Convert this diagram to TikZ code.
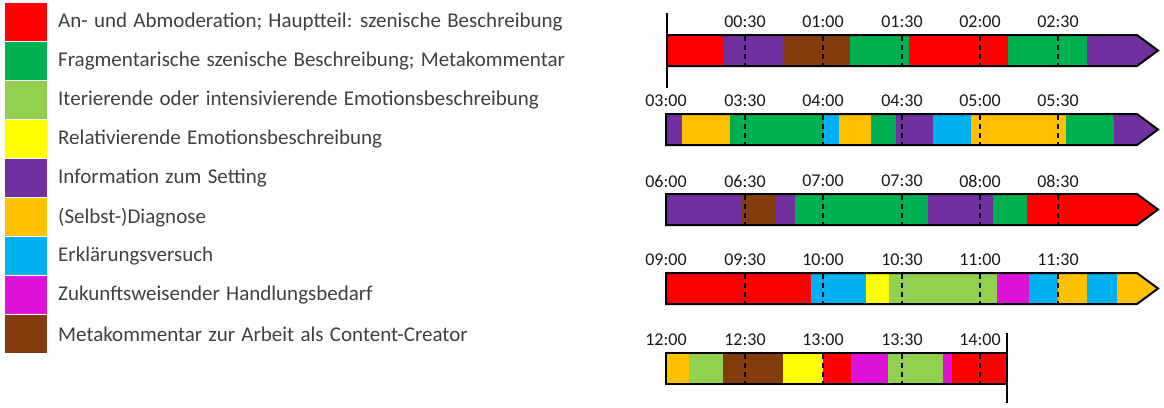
\documentclass[tikz,border=0pt]{standalone}
\usepackage{fontspec}
\setmainfont{Carlito}
\definecolor{cred}{HTML}{FF0000}
\definecolor{cgreen}{HTML}{00B050}
\definecolor{clgreen}{HTML}{92D050}
\definecolor{cyellow}{HTML}{FFFF00}
\definecolor{cpurple}{HTML}{7030A0}
\definecolor{corange}{HTML}{FFC000}
\definecolor{cblue}{HTML}{00B0F0}
\definecolor{cmagenta}{HTML}{DE12D6}
\definecolor{cbrown}{HTML}{843C0C}
\definecolor{ctext}{HTML}{404040}
\newcommand\legfnt{\fontsize{21}{23}\selectfont\spaceskip=6.3pt plus 1pt minus 1pt\relax}
\begin{document}
\begin{tikzpicture}[x=1pt,y=-1pt,
  legtext/.style={anchor=west,inner sep=0pt,text=ctext,font=\legfnt},
  timelbl/.style={inner sep=0pt,text=black!90,font=\fontsize{18}{20}\selectfont},
  outl/.style={draw=black,line width=2pt,line join=miter},
  tickline/.style={draw=black,line width=1.6pt,dash pattern=on 5pt off 4pt},
  endline/.style={draw=black,line width=2pt}]
\useasboundingbox (0,0) rectangle (1164,407);
% legend
\foreach \c/\t [count=\i from 0] in {
  cred/{An- und Abmoderation; Hauptteil: szenische Beschreibung},
  cgreen/{Fragmentarische szenische Beschreibung; Metakommentar},
  clgreen/{Iterierende oder intensivierende Emotionsbeschreibung},
  cyellow/{Relativierende Emotionsbeschreibung},
  cpurple/{Information zum Setting},
  corange/{(Selbst-)Diagnose},
  cblue/{Erklärungsversuch},
  cmagenta/{Zukunftsweisender Handlungsbedarf},
  cbrown/{Metakommentar zur Arbeit als Content-Creator}} {
  \fill[\c] (5,3+\i*39) rectangle (47,41+\i*39);
  \node[legtext] (leg\i) at (58,22.5+\i*39) {\t};
}
% ---------- row 1
\foreach \a/\b/\c in {667/723/cred,723/784/cpurple,784/850/cbrown,850/909/cgreen,909/1008/cred,1008/1087/cgreen}
  \fill[\c] (\a,35) rectangle (\b,66);
\fill[cpurple] (1087,35) -- (1137,35) -- (1158,50.5) -- (1137,66) -- (1087,66) -- cycle;
\foreach \x/\t [count=\i] in {745/00:30,823/01:00,902/01:30,980/02:00,1058/02:30} {
  \draw[tickline] (\x,36) -- (\x,66);
  \node[timelbl] (ra\i) at (\x,22) {\t};
}
\draw[outl] (667,35) -- (1137,35) -- (1158,50.5) -- (1137,66) -- (667,66) -- cycle;
\coordinate (s1a) at (667,13);
\coordinate (s1b) at (667,88);
\draw[endline] (s1a) -- (s1b);
% ---------- row 2
\foreach \a/\b/\c in {666/682/cpurple,682/730/corange,730/824/cgreen,824/839/cblue,839/871/corange,871/896/cgreen,896/933/cpurple,933/971/cblue,971/1066/corange,1066/1114/cgreen}
  \fill[\c] (\a,114) rectangle (\b,145);
\fill[cpurple] (1114,114) -- (1137,114) -- (1158,129.5) -- (1137,145) -- (1114,145) -- cycle;
\foreach \x in {745,823,902,980,1058}
  \draw[tickline] (\x,115) -- (\x,145);
\foreach \x/\t [count=\i] in {666/03:00,745/03:30,823/04:00,902/04:30,980/05:00,1058/05:30}
  \node[timelbl] (rb\i) at (\x,101) {\t};
\draw[outl] (666,114) -- (1137,114) -- (1158,129.5) -- (1137,145) -- (666,145) -- cycle;
% ---------- row 3
\foreach \a/\b/\c in {666/742/cpurple,742/776/cbrown,776/795/cpurple,795/928/cgreen,928/993/cpurple,993/1027/cgreen}
  \fill[\c] (\a,194) rectangle (\b,225);
\fill[cred] (1027,194) -- (1137,194) -- (1158,209.5) -- (1137,225) -- (1027,225) -- cycle;
\foreach \x in {745,823,902,980,1058}
  \draw[tickline] (\x,195) -- (\x,225);
\foreach \x/\t [count=\i] in {666/06:00,745/06:30,823/07:00,902/07:30,980/08:00,1058/08:30}
  \node[timelbl] (rc\i) at (\x,181) {\t};
\draw[outl] (666,194) -- (1137,194) -- (1158,209.5) -- (1137,225) -- (666,225) -- cycle;
% ---------- row 4
\foreach \a/\b/\c in {666/811/cred,811/866/cblue,866/889/cyellow,889/997/clgreen,997/1029/cmagenta,1029/1058/cblue,1058/1087/corange,1087/1117/cblue}
  \fill[\c] (\a,273) rectangle (\b,304);
\fill[corange] (1117,273) -- (1137,273) -- (1158,288.5) -- (1137,304) -- (1117,304) -- cycle;
\foreach \x in {745,823,902,980,1058}
  \draw[tickline] (\x,274) -- (\x,304);
\foreach \x/\t [count=\i] in {666/09:00,745/09:30,823/10:00,902/10:30,980/11:00,1058/11:30}
  \node[timelbl] (rd\i) at (\x,260) {\t};
\draw[outl] (666,273) -- (1137,273) -- (1158,288.5) -- (1137,304) -- (666,304) -- cycle;
% ---------- row 5
\foreach \a/\b/\c in {666/689/corange,689/723/clgreen,723/783/cbrown,783/823/cyellow,823/851/cred,851/888/cmagenta,888/943/clgreen,943/952/cmagenta,952/1007/cred}
  \fill[\c] (\a,353) rectangle (\b,384);
\foreach \x in {745,823,902,980}
  \draw[tickline] (\x,354) -- (\x,384);
\foreach \x/\t [count=\i] in {666/12:00,745/12:30,823/13:00,902/13:30,980/14:00}
  \node[timelbl] (re\i) at (\x,340) {\t};
\draw[outl] (666,353) rectangle (1007,384);
\coordinate (e5a) at (1007,333);
\coordinate (e5b) at (1007,403);
\draw[endline] (e5a) -- (e5b);
\end{tikzpicture}
\end{document}
